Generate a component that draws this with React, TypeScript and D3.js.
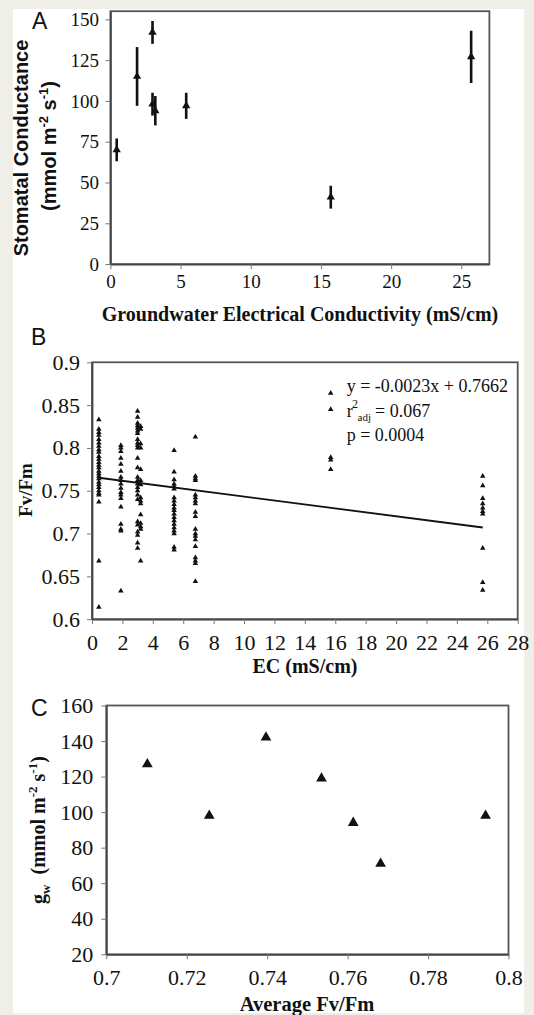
import { useEffect, useRef } from 'react';
import * as d3 from 'd3';

// ---- Panel A: groundwater EC vs stomatal conductance (mean +/- error) ----
const ecA = [0.45, 1.9, 3.0, 3.0, 3.2, 5.4, 15.7, 25.7];
const gsA = [70, 115, 142, 98, 94, 97, 41, 127];
const errA = [7, 18, 7, 7, 9, 8, 7, 16];
const ticksAx = [0, 5, 10, 15, 20, 25];
const ticksAy = [0, 25, 50, 75, 100, 125, 150];

// ---- Panel B: Fv/Fm measurements per site ----
const ecSites = [0.45, 1.9, 3.0, 3.2, 5.4, 6.8, 15.7, 25.7];
const fvSite1 = [0.833, 0.822, 0.818, 0.815, 0.81, 0.806, 0.802, 0.798, 0.795, 0.79, 0.787, 0.783, 0.78, 0.777, 0.773, 0.77, 0.767, 0.764, 0.76, 0.757, 0.754, 0.75, 0.747, 0.745, 0.737, 0.668, 0.614];
const fvSite2 = [0.803, 0.8, 0.796, 0.788, 0.781, 0.773, 0.766, 0.762, 0.758, 0.753, 0.748, 0.745, 0.741, 0.731, 0.711, 0.705, 0.703, 0.633];
const fvSite3 = [0.843, 0.836, 0.829, 0.826, 0.823, 0.82, 0.817, 0.81, 0.806, 0.803, 0.8, 0.788, 0.777, 0.766, 0.762, 0.758, 0.754, 0.75, 0.745, 0.74, 0.714, 0.71, 0.702, 0.698, 0.689, 0.683];
const fvSite4 = [0.825, 0.822, 0.805, 0.8, 0.775, 0.762, 0.757, 0.742, 0.738, 0.735, 0.722, 0.712, 0.708, 0.705, 0.668];
const fvSite5 = [0.797, 0.772, 0.763, 0.758, 0.755, 0.752, 0.742, 0.738, 0.734, 0.73, 0.727, 0.723, 0.719, 0.715, 0.711, 0.707, 0.703, 0.7, 0.684, 0.681];
const fvSite6 = [0.813, 0.767, 0.764, 0.762, 0.745, 0.742, 0.738, 0.735, 0.725, 0.72, 0.705, 0.7, 0.697, 0.693, 0.685, 0.672, 0.668, 0.665, 0.644];
const fvSite7 = [0.864, 0.845, 0.789, 0.786, 0.775];
const fvSite8 = [0.767, 0.756, 0.741, 0.735, 0.73, 0.726, 0.723, 0.683, 0.643, 0.634];
const fvBySite = [fvSite1, fvSite2, fvSite3, fvSite4, fvSite5, fvSite6, fvSite7, fvSite8];
const regSlope = -0.0023;
const regIntercept = 0.7662;
const regRange = [0.45, 25.7];
const ticksBx = [0, 2, 4, 6, 8, 10, 12, 14, 16, 18, 20, 22, 24, 26, 28];
const ticksBy = [0.6, 0.65, 0.7, 0.75, 0.8, 0.85, 0.9];

// ---- Panel C: average Fv/Fm vs gw ----
const avgFvFm = [0.7102, 0.7256, 0.7397, 0.7535, 0.7614, 0.7682, 0.7943];
const gwC = [127, 98, 142, 119, 94, 71, 98];
const ticksCx = [0.7, 0.72, 0.74, 0.76, 0.78, 0.8];
const ticksCy = [20, 40, 60, 80, 100, 120, 140, 160];

const SERIF = "'Liberation Serif', 'Times New Roman', serif";
const SANS = "'Liberation Sans', Arial, sans-serif";
const INK = '#111';

type G = d3.Selection<SVGGElement, unknown, null, undefined>;

function frame(
  g: G,
  x: d3.ScaleLinear<number, number>,
  y: d3.ScaleLinear<number, number>,
  xTicks: number[],
  yTicks: number[],
  fs: number,
  padX: number,
  padY: number
) {
  const [x0, x1] = x.range();
  const [y0, y1] = y.range();
  g.append('rect')
    .attr('x', x0).attr('y', y1)
    .attr('width', x1 - x0).attr('height', y0 - y1)
    .attr('fill', 'white')
    .attr('stroke', '#555')
    .attr('stroke-width', 1.8);

  const ax = g.append('g')
    .attr('transform', `translate(0,${y0})`)
    .call(d3.axisBottom(x).tickValues(xTicks).tickSize(5).tickSizeOuter(0).tickPadding(padX).tickFormat(d => String(d)));
  const ay = g.append('g')
    .attr('transform', `translate(${x0},0)`)
    .call(d3.axisLeft(y).tickValues(yTicks).tickSize(5).tickSizeOuter(0).tickPadding(padY).tickFormat(d => String(d)));
  [ax, ay].forEach(a => {
    a.select('.domain').attr('stroke', '#444').attr('stroke-width', 1.8);
    a.selectAll('.tick line').attr('stroke', '#777').attr('stroke-width', 1);
    a.selectAll('.tick text')
      .attr('fill', INK)
      .style('font-family', SERIF)
      .style('font-size', `${fs}px`);
  });
}

const App = () => {
  const ref = useRef<SVGSVGElement | null>(null);

  useEffect(() => {
    if (!ref.current) return;
    const svg = d3.select(ref.current);
    svg.selectAll('*').remove();

    svg.append('rect').attr('width', 534).attr('height', 1015).attr('fill', '#efeee7');
    svg.append('rect').attr('x', 13).attr('y', 9).attr('width', 511).attr('height', 1004).attr('fill', 'white');

    const tri = (size: number) => d3.symbol().type(d3.symbolTriangle).size(size)();

    // ---------- Panel A ----------
    const gA = svg.append('g');
    const xA = d3.scaleLinear().domain([0, 27]).range([110.4, 489.4]);
    const yA = d3.scaleLinear().domain([0, 155]).range([264.1, 11.2]);
    frame(gA, xA, yA, ticksAx, ticksAy, 19, 5.5, 6.5);

    const ptsA = ecA.map((e, i) => ({ x: e, y: gsA[i], err: errA[i] }));
    gA.selectAll('line.err').data(ptsA).enter().append('line')
      .attr('x1', d => xA(d.x)).attr('x2', d => xA(d.x))
      .attr('y1', d => yA(d.y - d.err)).attr('y2', d => yA(d.y + d.err))
      .attr('stroke', INK).attr('stroke-width', 2.6);
    gA.selectAll('path.pt').data(ptsA).enter().append('path')
      .attr('d', tri(30))
      .attr('transform', d => `translate(${xA(d.x)},${yA(d.y)})`)
      .attr('fill', INK);

    gA.append('text').attr('x', 32).attr('y', 29)
      .style('font-family', SANS).style('font-size', '23px').attr('fill', INK).text('A');

    gA.append('text')
      .attr('transform', 'translate(28,148) rotate(-90)')
      .attr('text-anchor', 'middle')
      .style('font-family', SANS).style('font-weight', 'bold').style('font-size', '20px').attr('fill', INK)
      .text('Stomatal Conductance');
    const tA2 = gA.append('text')
      .attr('transform', 'translate(56,146) rotate(-90)')
      .attr('text-anchor', 'middle')
      .style('font-family', SANS).style('font-weight', 'bold').style('font-size', '20px').attr('fill', INK);
    tA2.append('tspan').text('(mmol m');
    tA2.append('tspan').attr('dy', -8).style('font-size', '13px').text('-2');
    tA2.append('tspan').attr('dy', 8).text(' s');
    tA2.append('tspan').attr('dy', -8).style('font-size', '13px').text('-1');
    tA2.append('tspan').attr('dy', 8).text(')');

    gA.append('text').attr('x', 300).attr('y', 320.5)
      .attr('text-anchor', 'middle')
      .style('font-family', SERIF).style('font-weight', 'bold').style('font-size', '20px').attr('fill', INK)
      .text('Groundwater Electrical Conductivity (mS/cm)');

    // ---------- Panel B ----------
    const gB = svg.append('g');
    const xB = d3.scaleLinear().domain([0, 28]).range([92, 517.7]);
    const yB = d3.scaleLinear().domain([0.6, 0.9]).range([619.2, 362.3]);
    frame(gB, xB, yB, ticksBx, ticksBy, 22, 10, 7);

    const ptsB = ecSites.flatMap((e, i) => fvBySite[i].map(v => ({ x: e, y: v })));
    gB.selectAll('path.pt').data(ptsB).enter().append('path')
      .attr('d', tri(13))
      .attr('transform', d => `translate(${xB(d.x)},${yB(d.y)})`)
      .attr('fill', INK);

    const line = d3.line<number>().x(d => xB(d)).y(d => yB(regSlope * d + regIntercept));
    gB.append('path').attr('d', line(regRange))
      .attr('fill', 'none').attr('stroke', INK).attr('stroke-width', 1.8);

    gB.append('text').attr('x', 31).attr('y', 345)
      .style('font-family', SANS).style('font-size', '23px').attr('fill', INK).text('B');

    const stat = (x: number, y: number, s: string, fs = 18) =>
      gB.append('text').attr('x', x).attr('y', y)
        .style('font-family', SERIF).style('font-size', `${fs}px`).attr('fill', INK).text(s);
    stat(346.7, 391.5, 'y = -0.0023x + 0.7662');
    stat(346.7, 416.5, 'r');
    stat(352, 408, '2', 12);
    stat(357.5, 421, 'adj', 11);
    stat(375, 416.5, '= 0.067');
    stat(346.7, 440.5, 'p = 0.0004');

    gB.append('text')
      .attr('transform', 'translate(32,490) rotate(-90)')
      .attr('text-anchor', 'middle')
      .style('font-family', SERIF).style('font-weight', 'bold').style('font-size', '19px').attr('fill', INK)
      .text('Fv/Fm');
    gB.append('text').attr('x', 305).attr('y', 673)
      .attr('text-anchor', 'middle')
      .style('font-family', SERIF).style('font-weight', 'bold').style('font-size', '20px').attr('fill', INK)
      .text('EC (mS/cm)');

    // ---------- Panel C ----------
    const gC = svg.append('g');
    const xC = d3.scaleLinear().domain([0.7, 0.8]).range([106.3, 508.5]);
    const yC = d3.scaleLinear().domain([20, 160]).range([954.3, 705.5]);
    frame(gC, xC, yC, ticksCx, ticksCy, 22, 10, 8);

    const ptsC = avgFvFm.map((f, i) => ({ x: f, y: gwC[i] }));
    gC.selectAll('path.pt').data(ptsC).enter().append('path')
      .attr('d', tri(50))
      .attr('transform', d => `translate(${xC(d.x)},${yC(d.y)})`)
      .attr('fill', INK);

    gC.append('text').attr('x', 31).attr('y', 716)
      .style('font-family', SANS).style('font-size', '23px').attr('fill', INK).text('C');

    const tC = gC.append('text')
      .attr('transform', 'translate(45,830) rotate(-90)')
      .attr('text-anchor', 'middle')
      .style('font-family', SERIF).style('font-weight', 'bold').style('font-size', '20px').attr('fill', INK);
    tC.append('tspan').text('g');
    tC.append('tspan').attr('dy', 5).style('font-size', '13px').text('w');
    tC.append('tspan').attr('dy', -5).text('\u00a0 (mmol m');
    tC.append('tspan').attr('dy', -8).style('font-size', '13px').text('-2');
    tC.append('tspan').attr('dy', 8).text(' s');
    tC.append('tspan').attr('dy', -8).style('font-size', '13px').text('-1');
    tC.append('tspan').attr('dy', 8).text(')');

    gC.append('text').attr('x', 307).attr('y', 1011)
      .attr('text-anchor', 'middle')
      .style('font-family', SERIF).style('font-weight', 'bold').style('font-size', '20.5px').attr('fill', INK)
      .text('Average Fv/Fm');
  }, []);

  return (
    <svg ref={ref} width={534} height={1015} style={{ position: 'absolute', left: 0, top: 0 }} />
  );
};

export default App;
